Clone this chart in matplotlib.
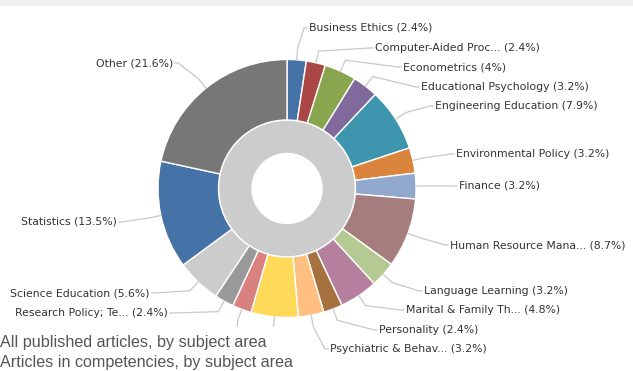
import numpy as np
import matplotlib.pyplot as plt
from matplotlib.patches import Rectangle

# subject areas, clockwise from the top
subjects = ['Business Ethics', 'Computer-Aided Proc...', 'Econometrics',
            'Educational Psychology', 'Engineering Education', 'Environmental Policy',
            'Finance', 'Human Resource Mana...', 'Language Learning',
            'Marital & Family Th...', 'Personality', 'Psychiatric & Behav...',
            'Psychology', 'Public Policy', 'Research Policy; Te...',
            'Science Education', 'Statistics', 'Other']
shares = [2.4, 2.4, 4, 3.2, 7.9, 3.2, 3.2, 8.7, 3.2, 4.8, 2.4, 3.2,
          5.9, 2.4, 2.4, 5.6, 13.5, 21.6]
colors = ['#4572A7', '#AA4643', '#89A54E', '#80699B', '#3D96AE', '#DB843D',
          '#92A8CD', '#A47D7C', '#B5CA92', '#B5809E', '#A6703F', '#FFBF80',
          '#FFD95A', '#D98080', '#999999', '#CCCCCC', '#4572A7', '#777777']
show_label = [True] * 12 + [False, False] + [True] * 4

# label anchors (pixels from top-left); right-side labels start at x, left-side end at x
label_x = [309, 375, 403, 421, 435, 456, 459, 450, 424, 406, 379, 330,
           None, None, 168, 150, 117, 173]
label_y = [28, 48, 67, 87, 106, 154, 186, 245, 291, 310, 330, 349,
           None, None, 313, 293, 222, 63]

W, H = 633, 371
cx, cy = 287, 188.5
R_out, R_mid, R_in = 129, 68.5, 35

fig = plt.figure(figsize=(W / 100, H / 100), dpi=100)
ax = fig.add_axes([0, 0, 1, 1])

# y runs downwards, so counterclock=True draws clockwise on screen
inner, _ = ax.pie([100], radius=R_mid, center=(cx, cy), colors=['#CCCCCC'],
                  startangle=-90, counterclock=True,
                  wedgeprops=dict(width=R_mid - R_in, edgecolor='white', linewidth=1))
wedges, _ = ax.pie(shares, radius=R_out, center=(cx, cy), colors=colors,
                   startangle=-90, counterclock=True,
                   wedgeprops=dict(width=R_out - R_mid, edgecolor='white', linewidth=1))
ax.set_xlim(0, W)
ax.set_ylim(H, 0)
ax.set_aspect('auto')
ax.axis('off')

# data labels with connectors
cum = np.cumsum([0] + shares)
for i, name in enumerate(subjects):
    mid = (cum[i] + cum[i + 1]) / 2 / 100 * 2 * np.pi
    sx, sy = np.sin(mid), -np.cos(mid)
    ex, ey = cx + R_out * sx, cy + R_out * sy
    bx, by = cx + (R_out + 12) * sx, cy + (R_out + 12) * sy
    if not show_label[i]:
        ax.plot([ex, bx, bx - 2], [ey, by, by + 40], color='#c8c8c8', lw=0.9)
        continue
    lx, ly = label_x[i], label_y[i]
    right = sx >= 0
    px = lx - 5 if right else lx + 5
    ax.plot([ex, bx, px, px + (3 if right else -3)], [ey, by, ly, ly],
            color='#c8c8c8', lw=0.9, solid_joinstyle='miter')
    ax.text(lx, ly, f'{name} ({shares[i]:g}%)', ha='left' if right else 'right',
            va='center', fontsize=7.8, color='#333333', family='DejaVu Sans')

# top strip of the frame
ax.add_patch(Rectangle((0, 0), W, 6, color='#f0f0f0', lw=0))

# legend area
ax.add_patch(Rectangle((0, 327), 300, 50, color='white', lw=0, zorder=5))
ax.text(0, 343, 'All published articles, by subject area', fontsize=11.6,
        color='#555555', family='Liberation Sans', va='center', zorder=6)
ax.text(0, 362, 'Articles in competencies, by subject area', fontsize=11.6,
        color='#555555', family='Liberation Sans', va='center', zorder=6)

fig.savefig('out.png', dpi=100)
